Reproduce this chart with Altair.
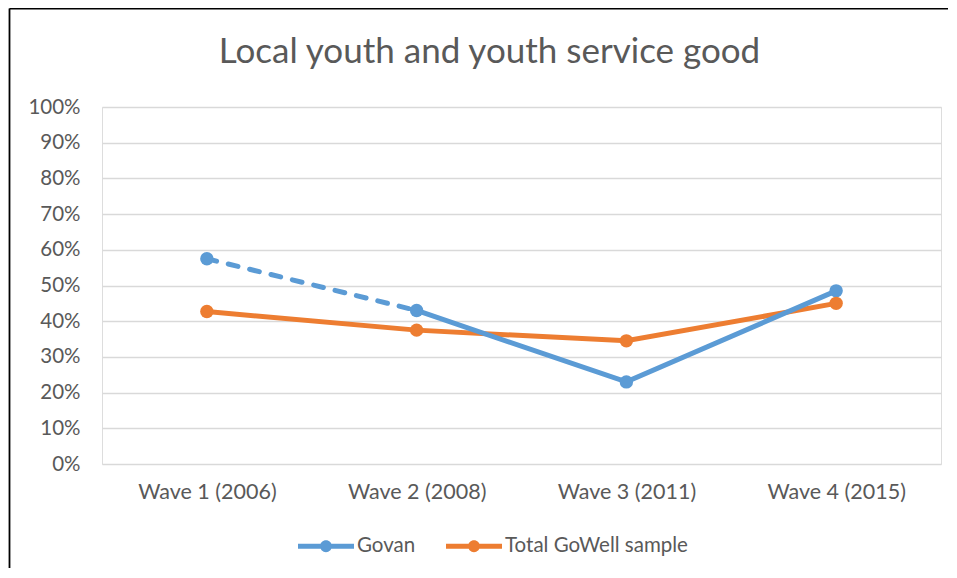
import altair as alt
import pandas as pd

waves = ["Wave 1 (2006)", "Wave 2 (2008)", "Wave 3 (2011)", "Wave 4 (2015)"]
series_names = ["Govan", "Total GoWell sample"]
govan = [57.5, 43.0, 23.0, 48.5]
total = [42.7, 37.5, 34.5, 45.0]
colors = ["#5b9bd5", "#ed7d31"]
title_text = "Local youth and youth service good"

rows = []
for name, vals in zip(series_names, [govan, total]):
    for i, (w, v) in enumerate(zip(waves, vals)):
        rows.append({"series": name, "wave": w, "idx": i, "value": v})
df = pd.DataFrame(rows)

W, H = 839, 357
PAD_L, PAD_T, PAD_R, PAD_B = 94, 99, 7, 104
TXT = "#595959"
FONT = "Lato"

legend_path = ("M -1 -0.09 L 1 -0.09 L 1 0.09 L -1 0.09 Z "
               "M -0.21 0 A 0.21 0.21 0 1 1 0.21 0 A 0.21 0.21 0 1 1 -0.21 0 Z")

color = alt.Color(
    "series:N",
    scale=alt.Scale(domain=series_names, range=colors),
    legend=alt.Legend(
        title=None, orient="none", direction="horizontal",
        legendX=196, legendY=411,
        symbolType=legend_path, symbolSize=3136, symbolStrokeWidth=0,
        labelFontSize=20.5, labelColor=TXT, labelFont=FONT, labelLimit=400,
        labelOffset=3, columnPadding=30, padding=0,
    ),
)

x = alt.X("wave:N", sort=waves, title=None,
          scale=alt.Scale(type="point", padding=0.5),
          axis=alt.Axis(labelAngle=0, ticks=False, domain=False, grid=False,
                        labelFontSize=21.5, labelColor=TXT, labelFont=FONT,
                        labelPadding=17))
y = alt.Y("value:Q", title=None,
          scale=alt.Scale(domain=[0, 100], nice=False),
          axis=alt.Axis(values=list(range(0, 101, 10)), labelExpr="datum.value + '%'",
                        ticks=False, domain=False, gridColor="#d9d9d9", gridWidth=1.3,
                        labelFontSize=20.5, labelColor=TXT, labelFont=FONT,
                        labelPadding=22))

base = alt.Chart(df)

gov_dash = base.transform_filter(
    "datum.series == 'Govan' && datum.idx <= 1"
).mark_line(strokeWidth=5, strokeDash=[10, 12], strokeCap="round").encode(x=x, y=y, color=color)

gov_solid = base.transform_filter(
    "datum.series == 'Govan' && datum.idx >= 1"
).mark_line(strokeWidth=5, strokeCap="round").encode(x=x, y=y, color=color)

tot_line = base.transform_filter(
    "datum.series == 'Total GoWell sample'"
).mark_line(strokeWidth=5, strokeCap="round").encode(x=x, y=y, color=color)

points = base.mark_point(filled=True, size=180, opacity=1).encode(x=x, y=y, color=color)

one = pd.DataFrame({"t": [title_text]})
title = alt.Chart(one).mark_text(
    fontSize=35, font=FONT, color=TXT, align="center", baseline="alphabetic"
).encode(text="t:N", x=alt.value(387.5), y=alt.value(-44))

frame_left = alt.Chart(one).mark_rule(color="#000000", strokeWidth=1.8).encode(
    x=alt.value(-92.5), y=alt.value(-98.5), y2=alt.value(H + PAD_B))
frame_top = alt.Chart(one).mark_rule(color="#000000", strokeWidth=1.8).encode(
    x=alt.value(-92.5), x2=alt.value(W + PAD_R), y=alt.value(-98.5))

chart = alt.layer(tot_line, gov_dash, gov_solid, points, title, frame_left, frame_top).properties(
    width=W, height=H,
    autosize=alt.AutoSizeParams(type="none"),
    padding={"left": PAD_L, "top": PAD_T, "right": PAD_R, "bottom": PAD_B},
).configure_view(stroke="transparent", strokeWidth=0).configure(background="white")

chart.save("out.html", embed_options={"renderer": "svg", "actions": False})
